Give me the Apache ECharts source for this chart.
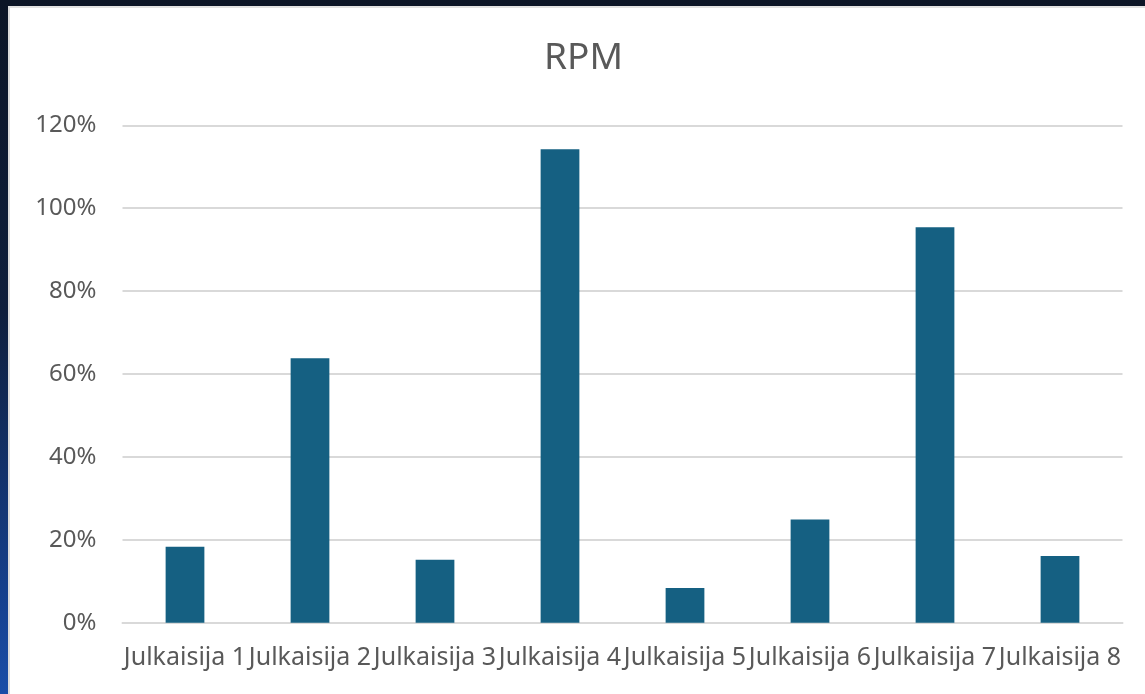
<!DOCTYPE html>
<html>
<head>
<meta charset="utf-8">
<title>RPM</title>
<script src="https://cdn.jsdelivr.net/npm/echarts@6/dist/echarts.min.js"></script>
<style>
  html, body { margin: 0; padding: 0; width: 1145px; height: 694px; overflow: hidden; }
  body { background: linear-gradient(180deg, #0c1526 0%, #0f1f3d 45%, #16408c 85%, #1a4ea8 100%); position: relative; }
  #card { position: absolute; left: 8px; top: 6px; right: 0; bottom: 0; background: #ffffff;
          border-left: 2px solid #dcdcdc; border-top: 2px solid #e2e2e2; box-sizing: border-box; }
  #chart { position: absolute; left: 0; top: 0; width: 1145px; height: 694px; }
</style>
</head>
<body>
<div id="card"></div>
<div id="chart"></div>
<script>
// Publisher categories along the x axis
const categories = ['Julkaisija 1', 'Julkaisija 2', 'Julkaisija 3', 'Julkaisija 4',
                    'Julkaisija 5', 'Julkaisija 6', 'Julkaisija 7', 'Julkaisija 8'];
// RPM share per publisher (1 = 100%)
const rpmValues = [0.183, 0.638, 0.152, 1.142, 0.084, 0.249, 0.954, 0.161];
// Value axis range and step
const yMin = 0;
const yMax = 1.2;
const yStep = 0.2;

const FONT = '"Noto Sans", "Liberation Sans", sans-serif';
const TEXT = '#595959';

const chart = echarts.init(document.getElementById('chart'), null, { renderer: 'canvas' });
chart.setOption({
  backgroundColor: 'transparent',
  animation: false,
  title: {
    text: 'RPM',
    left: 539,
    top: 35,
    textStyle: { fontFamily: FONT, fontSize: 37, fontWeight: 'normal', color: TEXT }
  },
  grid: { left: 122.5, right: 22.5, top: 125.3, bottom: 71.3, containLabel: false },
  xAxis: {
    type: 'category',
    data: categories,
    axisLine: { show: true, lineStyle: { color: '#d9d9d9', width: 2 } },
    axisTick: { show: false },
    axisLabel: { interval: 0, margin: 23, fontFamily: FONT, fontSize: 25, color: TEXT }
  },
  yAxis: {
    type: 'value',
    min: yMin,
    max: yMax,
    interval: yStep,
    axisLine: { show: false },
    axisTick: { show: false },
    splitLine: { lineStyle: { color: '#d9d9d9', width: 2 } },
    axisLabel: {
      margin: 26,
      fontFamily: FONT,
      fontSize: 24,
      color: TEXT,
      formatter: v => Math.round(v * 100) + '%'
    }
  },
  series: [{
    type: 'bar',
    data: rpmValues,
    barWidth: '31%',
    itemStyle: { color: '#156082' }
  }]
});
</script>
</body>
</html>
